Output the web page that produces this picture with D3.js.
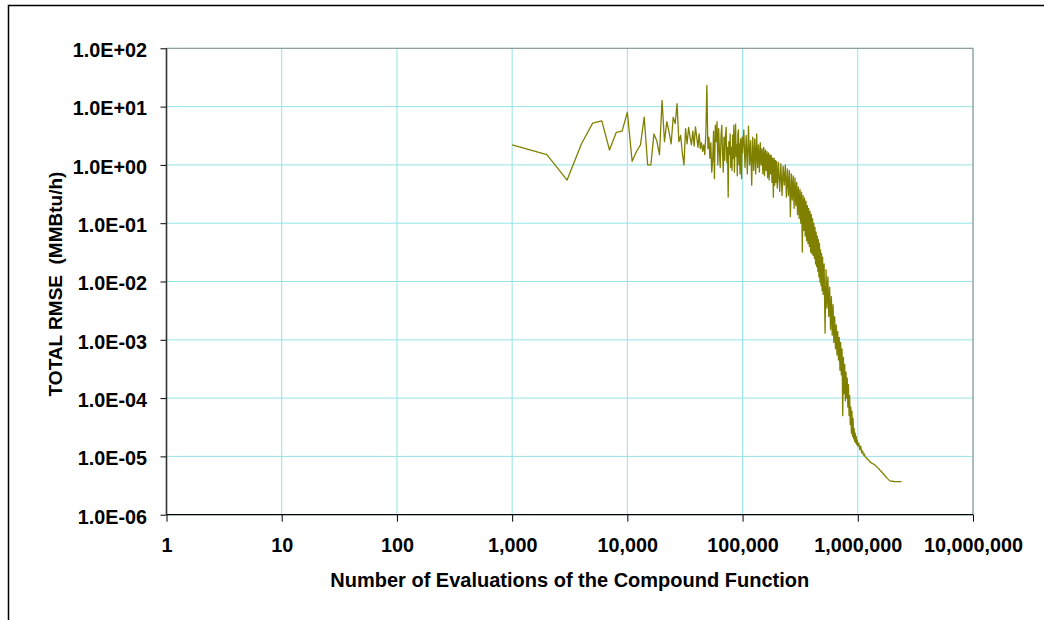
<!DOCTYPE html>
<meta charset="utf-8">
<style>
    body { margin: 0; background: #fff; }
    text { font-family: Arial, "Liberation Sans", sans-serif; font-weight: bold; fill: #000; }
    .grid line { stroke: #94e4e8; stroke-width: 1; }
    .axis path { display: none; }
    .axis line { stroke: #000; }
    .axis text { font-size: 19.8px; }
    .series { fill: none; stroke: #808000; stroke-width: 1.3; stroke-linejoin: round; }
</style>
<svg width="1044" height="620"></svg>
<script src="https://d3js.org/d3.v7.min.js"></script>
<script>

    // tick labels
    var xTickValues = [1, 10, 100, 1e3, 1e4, 1e5, 1e6, 1e7];
    var yTickValues = [1e-6, 1e-5, 1e-4, 1e-3, 1e-2, 1e-1, 1e0, 1e1, 1e2];

    // [evaluations, total RMSE]
    var exploreRuns = [
        [1000, 2.2], [2000, 1.5], [3000, 0.55], [4000, 2.3], [5000, 5.2], [6000, 5.7],
        [7000, 1.8], [8000, 3.6], [9000, 3.8], [10000, 8.0], [11000, 1.15], [12000, 1.7],
        [13000, 2.2], [14000, 6.6], [15000, 1.0], [16000, 1.0], [17000, 3.4], [18000, 2.6],
        [19000, 1.5], [20000, 12.8], [21000, 2.5], [22000, 5.5], [23000, 3.7], [24000, 2.3],
        [25000, 6.6], [26000, 5.1], [27000, 11.2], [28000, 2.5], [29000, 3.2], [30000, 1.6],
        [31000, 1.0], [32000, 4.2], [33000, 2.3], [34000, 4.4], [35000, 3.0], [36000, 2.2],
        [37000, 3.8], [38000, 2.1], [39000, 4.5], [40000, 3.0], [41000, 2.0], [42000, 3.4],
        [43000, 1.9], [44000, 2.4], [45000, 1.7], [46000, 2.2], [47000, 1.5], [48000, 3.5],
        [49000, 23.0]
    ];

    var noisyRuns = [
        [50000, 1.9], [51000, 3.0], [52000, 1.3], [53000, 2.4], [54000, 0.75], [55000, 1.2],
        [56000, 3.8], [57000, 0.58], [58000, 4.8], [59000, 2.5], [60000, 5.5], [61000, 1.0],
        [62000, 4.2], [63000, 1.7], [64000, 0.9], [65000, 3.2], [66000, 4.8], [67000, 1.6],
        [68000, 0.75], [69000, 3.0], [70000, 1.2], [71000, 3.2], [72000, 4.4], [73000, 1.1],
        [74000, 2.0], [75000, 0.28], [76000, 2.5], [77000, 1.5], [78000, 3.4], [79000, 0.9],
        [80000, 2.0], [81000, 0.8], [82000, 3.2], [83000, 1.3], [84000, 4.8], [85000, 0.75],
        [86000, 2.5], [87000, 5.0], [88000, 1.4], [89000, 2.2], [90000, 0.65], [91000, 3.3],
        [92000, 4.0], [93000, 1.0], [94000, 2.3], [95000, 0.7], [96000, 2.8], [97000, 1.8],
        [98000, 0.58], [99000, 3.0], [100000, 1.6]
    ];

    var descentRuns = [
        [102500, 4.0], [105000, 0.9], [107500, 3.2], [110000, 0.7], [112500, 4.6], [115000, 1.0],
        [117500, 2.6], [120000, 0.45], [122500, 3.0], [125000, 0.8], [127500, 2.8], [130000, 0.7],
        [132500, 3.4], [135000, 0.9], [137500, 2.2], [140000, 0.75], [142500, 2.4], [145000, 1.0],
        [147500, 1.9], [150000, 0.7], [152500, 2.0], [155000, 0.65], [157500, 1.8], [160000, 0.8],
        [162500, 1.7], [165000, 0.6], [167500, 1.6], [170000, 0.55], [172500, 1.5], [175000, 0.7],
        [177500, 1.45], [180000, 0.5], [182500, 1.3], [185000, 0.28], [187500, 1.3], [190000, 0.45],
        [192500, 1.2], [195000, 0.5], [197500, 1.15], [200000, 0.4],
        [205000, 1.1], [210000, 0.35], [215000, 1.05], [220000, 0.3], [225000, 0.95], [230000, 0.45],
        [235000, 1.0], [240000, 0.28], [245000, 0.85], [250000, 0.3], [255000, 0.8], [260000, 0.13],
        [265000, 0.7], [270000, 0.25], [275000, 0.65], [280000, 0.18], [285000, 0.6], [290000, 0.2],
        [295000, 0.5], [300000, 0.14], [305000, 0.42], [310000, 0.12], [315000, 0.38], [320000, 0.1],
        [325000, 0.34], [330000, 0.032], [335000, 0.3], [340000, 0.075], [345000, 0.27], [350000, 0.06],
        [355000, 0.24], [360000, 0.05], [365000, 0.2], [370000, 0.045], [375000, 0.18], [380000, 0.04],
        [385000, 0.16], [390000, 0.032], [395000, 0.14], [400000, 0.03], [405000, 0.12], [410000, 0.028],
        [415000, 0.1], [420000, 0.025], [425000, 0.085], [430000, 0.02], [435000, 0.07], [440000, 0.018],
        [445000, 0.06], [450000, 0.015], [455000, 0.052], [460000, 0.012], [465000, 0.045], [470000, 0.0098],
        [475000, 0.035], [480000, 0.0085], [485000, 0.03], [490000, 0.007], [495000, 0.026], [500000, 0.006]
    ];

    var convergeRuns = [
        [510000, 0.02], [520000, 0.0013], [530000, 0.016], [540000, 0.0035], [550000, 0.012],
        [560000, 0.0025], [570000, 0.008], [580000, 0.0015], [590000, 0.0055], [600000, 0.0012],
        [610000, 0.004], [620000, 0.0009], [630000, 0.0025], [640000, 0.0007], [650000, 0.0018],
        [660000, 0.00055], [670000, 0.0014], [680000, 0.00045], [690000, 0.0011], [700000, 0.0003],
        [710000, 0.0009], [720000, 0.00025], [730000, 0.0007], [740000, 0.00005], [750000, 0.0005],
        [760000, 0.00012], [770000, 0.00038], [780000, 0.00009], [790000, 0.00028], [800000, 0.0001],
        [810000, 0.00022], [820000, 0.00007], [830000, 0.00017], [840000, 0.00005], [850000, 0.00011],
        [860000, 0.000035], [870000, 0.00007], [880000, 0.000025], [890000, 0.00006], [900000, 0.000022],
        [910000, 0.000045], [920000, 0.00002], [930000, 0.00003], [940000, 0.000018], [950000, 0.000025],
        [960000, 0.000017], [970000, 0.000022], [980000, 0.000016], [990000, 0.000019], [1000000, 0.000015],
        [1020000, 0.000017], [1040000, 0.000013], [1060000, 0.000015], [1080000, 0.0000115],
        [1100000, 0.0000125], [1120000, 0.0000105], [1140000, 0.000011], [1160000, 0.0000098],
        [1180000, 0.0000096], [1200000, 0.0000092]
    ];

    var tailRuns = [
        [1300000, 7.8e-6], [1400000, 7.2e-6], [1500000, 6.3e-6], [1600000, 5.5e-6], [1700000, 4.8e-6],
        [1800000, 4.2e-6], [1900000, 3.8e-6], [2000000, 3.75e-6], [2100000, 3.7e-6], [2200000, 3.7e-6],
        [2300000, 3.7e-6], [2400000, 3.7e-6]
    ];

    var svg = d3.select("svg"),
        plot = {left: 166.5, right: 973, top: 48.3, bottom: 514.7};

    var x = d3.scaleLog().domain([1, 1e7]).range([plot.left, plot.right]),
        y = d3.scaleLog().domain([1e-6, 1e2]).range([plot.bottom, plot.top]);

    function sci(v) {
        var e = Math.round(Math.log10(v));
        var s = Math.abs(e) < 10 ? "0" + Math.abs(e) : "" + Math.abs(e);
        return "1.0E" + (e < 0 ? "-" : "+") + s;
    }

    svg.append("rect").attr("width", 1044).attr("height", 620).attr("fill", "#fff");

    // outer chart frame (clipped by the page on the right and bottom)
    svg.append("path")
        .attr("d", "M8.5,620V5.5H1044")
        .attr("fill", "none")
        .attr("stroke", "#000")
        .attr("stroke-width", 1.5);

    var grid = svg.append("g").attr("class", "grid");
    grid.selectAll(".gx")
        .data(xTickValues)
        .enter().append("line")
        .attr("x1", function(d) { return x(d); })
        .attr("x2", function(d) { return x(d); })
        .attr("y1", plot.top)
        .attr("y2", plot.bottom);
    grid.selectAll(".gy")
        .data(yTickValues)
        .enter().append("line")
        .attr("x1", plot.left)
        .attr("x2", plot.right)
        .attr("y1", function(d) { return y(d); })
        .attr("y2", function(d) { return y(d); });

    // top and right plot border
    svg.append("path")
        .attr("d", "M" + plot.left + "," + plot.top + "H" + plot.right + "V" + plot.bottom)
        .attr("fill", "none")
        .attr("stroke", "#8a8a8a")
        .attr("stroke-width", 1);

    var allRuns = exploreRuns.concat(noisyRuns, descentRuns, convergeRuns, tailRuns);

    svg.append("path")
        .datum(allRuns)
        .attr("class", "series")
        .attr("d", d3.line()
            .x(function(d) { return x(d[0]); })
            .y(function(d) { return y(d[1]); }));

    svg.append("g")
        .attr("class", "axis axis--x")
        .attr("transform", "translate(0," + plot.bottom + ")")
        .call(d3.axisBottom(x).tickValues(xTickValues).tickFormat(d3.format(",")).tickSize(7).tickPadding(16));

    svg.append("g")
        .attr("class", "axis axis--y")
        .attr("transform", "translate(" + plot.left + ",0)")
        .call(d3.axisLeft(y).tickValues(yTickValues).tickFormat(sci).tickSize(6).tickPadding(13.5))
        .selectAll("text").attr("dy", "0.42em");

    // axis lines
    svg.append("line")
        .attr("x1", plot.left).attr("x2", plot.left)
        .attr("y1", plot.top).attr("y2", plot.bottom)
        .attr("stroke", "#333").attr("stroke-width", 1.6);
    svg.append("line")
        .attr("x1", plot.left).attr("x2", plot.right)
        .attr("y1", plot.bottom).attr("y2", plot.bottom)
        .attr("stroke", "#000").attr("stroke-width", 1.2);

    svg.append("text")
        .attr("x", (plot.left + plot.right) / 2)
        .attr("y", 587)
        .attr("text-anchor", "middle")
        .style("font-size", "20px")
        .text("Number of Evaluations of the Compound Function");

    svg.append("text")
        .attr("transform", "translate(61.5," + 284 + ") rotate(-90)")
        .attr("text-anchor", "middle")
        .style("font-size", "19px")
        .style("white-space", "pre")
        .text("TOTAL RMSE  (MMBtu/h)");
</script>
